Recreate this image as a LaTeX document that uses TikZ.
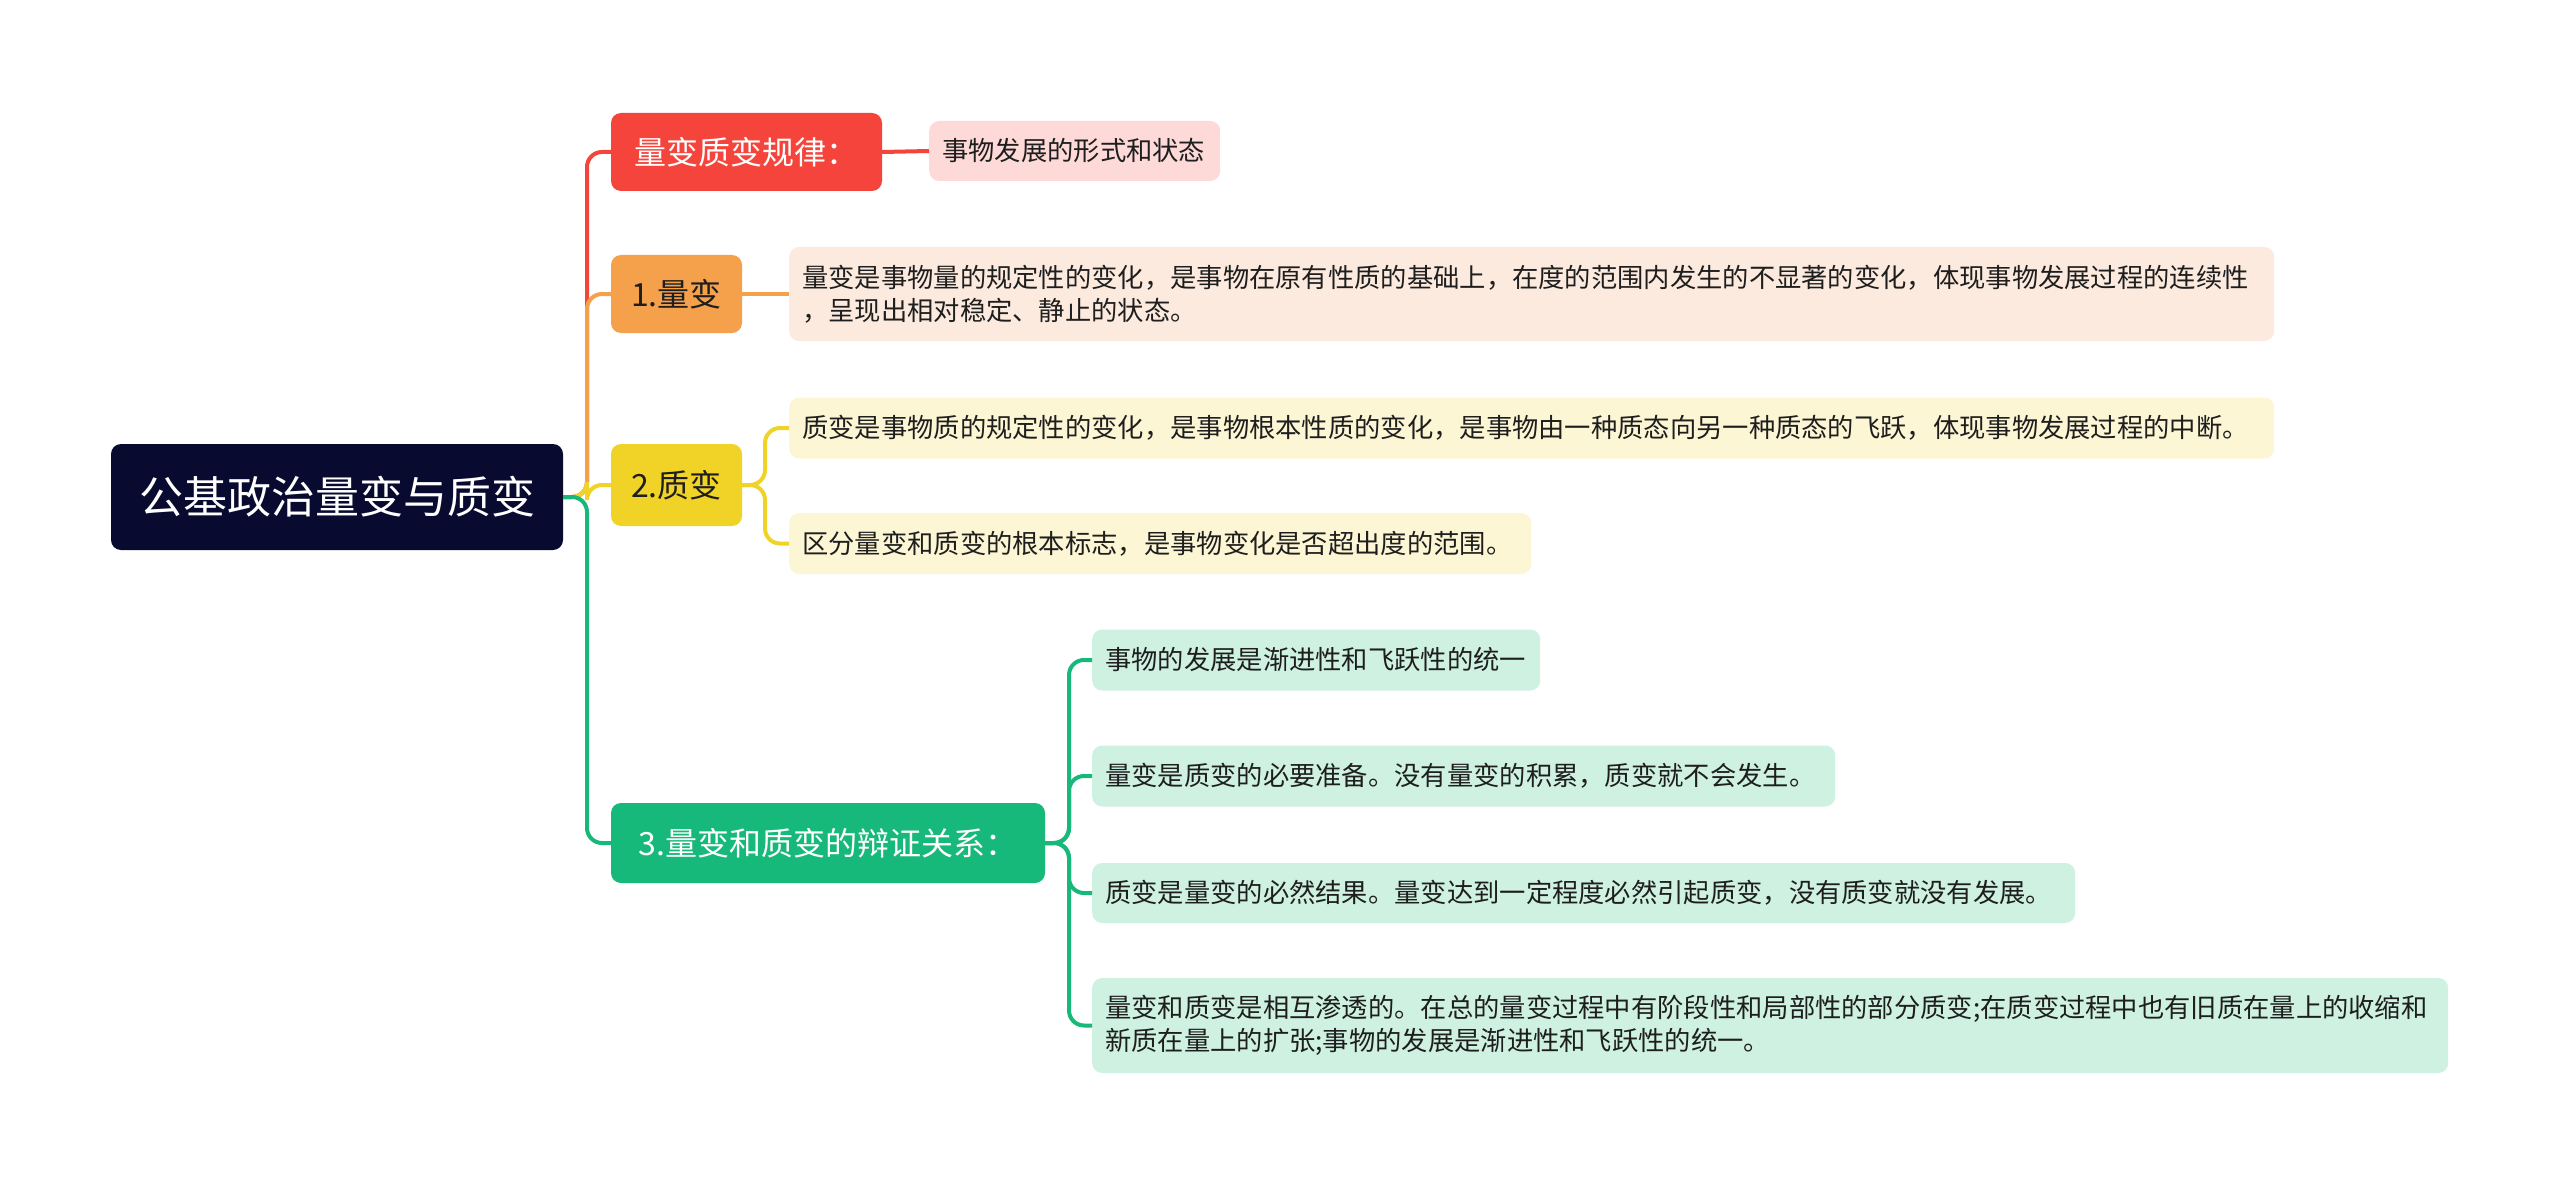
\documentclass[tikz,border=0pt]{standalone}
\usepackage{fontspec}
\newfontfamily\cjk{Noto Sans CJK SC}
\definecolor{rootc}{HTML}{080A30}
\definecolor{redc}{HTML}{F5443B}
\definecolor{redl}{HTML}{FDD9D8}
\definecolor{orc}{HTML}{F5A04B}
\definecolor{orl}{HTML}{FCEADE}
\definecolor{yec}{HTML}{F0D326}
\definecolor{yel}{HTML}{FCF6D5}
\definecolor{grc}{HTML}{17B97A}
\definecolor{grl}{HTML}{CEF1E2}
\definecolor{txt}{HTML}{1E1E1E}
\tikzset{
  rootbox/.style={fill=rootc, text=white, rounded corners=10pt, inner sep=0pt,
    font=\cjk\fontsize{44}{52}\selectfont},
  branchbox/.style={rounded corners=10pt, inner sep=0pt,
    font=\cjk\fontsize{32}{38}\selectfont},
  leafbox/.style={rounded corners=10pt, inner xsep=13pt, inner ysep=0pt,
    anchor=west, align=left, text=txt,
    font=\cjk\fontsize{26.3}{33}\selectfont},
  conn/.style={line width=4pt, rounded corners=15pt}
}
\begin{document}
\begin{tikzpicture}[x=1pt,y=-1pt]
\useasboundingbox[fill=white] (0,0) rectangle (2560,1185);

% root
\node[rootbox, minimum width=452pt, minimum height=106pt] (root) at (337,497) {公基政治量变与质变};

% branches
\node[branchbox, fill=redc, text=white, minimum width=271pt, minimum height=78pt] (b1) at (746.5,152) {量变质变规律：};
\node[branchbox, fill=orc, text=txt, minimum width=131pt, minimum height=78pt] (b2) at (676.5,294) {1.量变};
\node[branchbox, fill=yec, text=txt, minimum width=131pt, minimum height=82pt] (b3) at (676.5,485) {2.质变};
\node[branchbox, fill=grc, text=white, minimum width=434pt, minimum height=80pt] (b4) at (828,843) {3.量变和质变的辩证关系：};

% leaves
\node[leafbox, fill=redl, text width=265pt, minimum height=60pt] (l1) at (929,151) {事物发展的形式和状态};
\node[leafbox, fill=orl, text width=1459pt, minimum height=94pt] (l2) at (789,294) {量变是事物量的规定性的变化，是事物在原有性质的基础上，在度的范围内发生的不显著的变化，体现事物发展过程的连续性\\，呈现出相对稳定、静止的状态。};
\node[leafbox, fill=yel, text width=1459pt, minimum height=61pt] (l3a) at (789,428) {质变是事物质的规定性的变化，是事物根本性质的变化，是事物由一种质态向另一种质态的飞跃，体现事物发展过程的中断。};
\node[leafbox, fill=yel, text width=716pt, minimum height=61pt] (l3b) at (789,543.5) {区分量变和质变的根本标志，是事物变化是否超出度的范围。};
\node[leafbox, fill=grl, text width=422pt, minimum height=61pt] (l4a) at (1092,660) {事物的发展是渐进性和飞跃性的统一};
\node[leafbox, fill=grl, text width=717pt, minimum height=61pt] (l4b) at (1092,776) {量变是质变的必要准备。没有量变的积累，质变就不会发生。};
\node[leafbox, fill=grl, text width=957pt, minimum height=60pt] (l4c) at (1092,893) {质变是量变的必然结果。量变达到一定程度必然引起质变，没有质变就没有发展。};
\node[leafbox, fill=grl, text width=1330pt, minimum height=95pt] (l4d) at (1092,1025.5) {量变和质变是相互渗透的。在总的量变过程中有阶段性和局部性的部分质变;在质变过程中也有旧质在量上的收缩和\\新质在量上的扩张;事物的发展是渐进性和飞跃性的统一。};

% connector helper points
\coordinate (spine) at (587,497);
\coordinate (ys) at (765,485);
\coordinate (gs) at (1069,843);

% connectors
\draw[conn, redc] (root.east) -- (spine) |- (b1.west);
\draw[conn, redc] (b1.east) -- (l1.west);
\draw[conn, orc] (root.east) -- (spine) |- (b2.west);
\draw[conn, orc] (b2.east) -- (l2.west);
\draw[conn, yec] (root.east) -- (spine) |- (b3.west);
\draw[conn, yec] (b3.east) -- (ys) |- (l3a.west);
\draw[conn, yec] (b3.east) -- (ys) |- (l3b.west);
\draw[conn, grc] (root.east) -- (spine) |- (b4.west);
\draw[conn, grc] (b4.east) -- (gs) |- (l4a.west);
\draw[conn, grc] (b4.east) -- (gs) |- (l4b.west);
\draw[conn, grc] (b4.east) -- (gs) |- (l4c.west);
\draw[conn, grc] (b4.east) -- (gs) |- (l4d.west);
\end{tikzpicture}
\end{document}
